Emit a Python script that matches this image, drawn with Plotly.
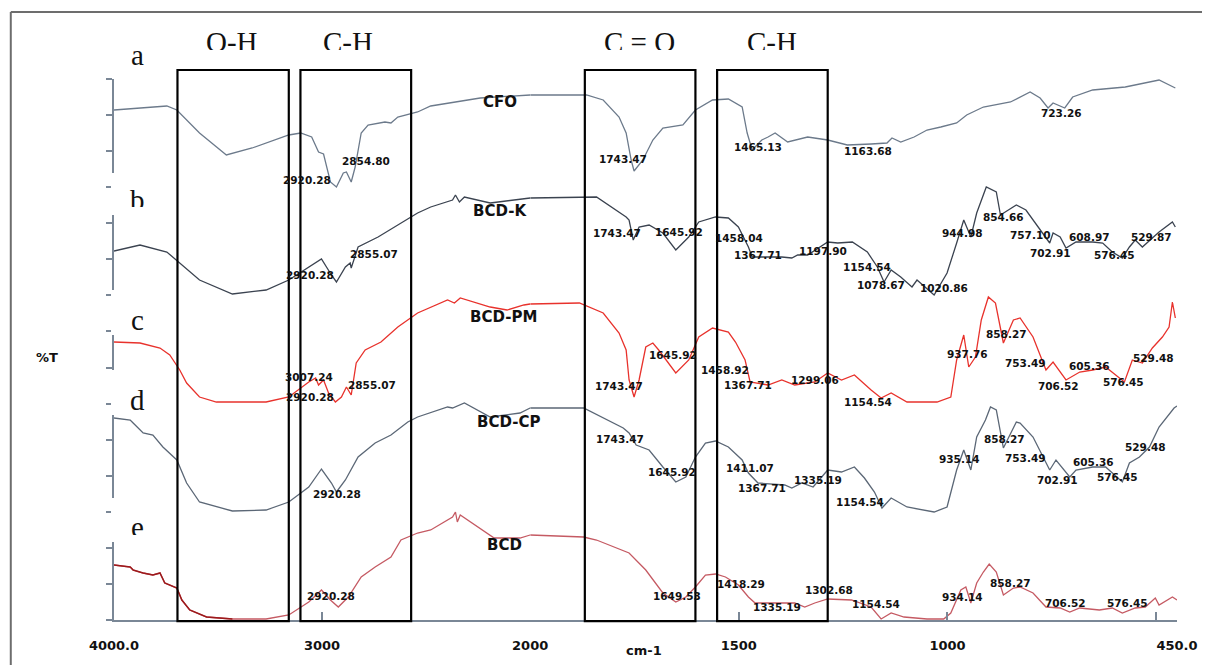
import plotly.graph_objects as go

# ---------------- data (wavenumber in cm-1, offset %T in arbitrary units) ----------------
cfo_wn = [4000, 3746, 3698, 3589, 3460, 3336, 3160, 3103, 3050, 3017,
          2993, 2960, 2931, 2898, 2883, 2860, 2841, 2812, 2779, 2698,
          2669, 2636, 2541, 2478, 2240, 2000, 1865, 1825, 1787, 1770,
          1758, 1751, 1730, 1706, 1682, 1634, 1604, 1563, 1525, 1492,
          1480, 1468, 1445, 1430, 1413, 1383, 1335, 1287, 1240, 1183,
          1145, 1133, 1112, 1080, 1049, 1016, 978, 954, 914, 849,
          802, 778, 759, 747, 730, 719, 700, 652, 574, 493, 454]
cfo_t = [510, 514, 510, 487, 465, 472, 485, 487, 483, 468,
         466, 438, 433, 447, 448, 438, 453, 487, 495, 498,
         497, 503, 508, 514, 522, 525, 525, 520, 503, 487,
         460, 449, 460, 480, 492, 495, 510, 520, 521, 513,
         487, 470, 480, 483, 487, 478, 483, 480, 475, 476,
         477, 482, 478, 483, 490, 493, 497, 505, 513, 518,
         528, 522, 512, 517, 514, 512, 523, 530, 533, 540, 532]

bcdk_wn = [4000, 3908, 3875, 3746, 3684, 3589, 3431, 3269, 3160, 3064,
           3003, 2955, 2931, 2888, 2865, 2860, 2827, 2731, 2650, 2541,
           2478, 2373, 2359, 2340, 2316, 2192, 2000, 1841, 1770, 1763,
           1753, 1739, 1715, 1682, 1651, 1620, 1596, 1556, 1525, 1501,
           1477, 1468, 1397, 1373, 1359, 1335, 1287, 1263, 1228, 1192,
           1168, 1152, 1135, 1112, 1085, 1073, 1032, 1001, 978, 961,
           944, 930, 907, 883, 873, 835, 812, 778, 755, 747,
           730, 716, 692, 652, 628, 605, 581, 564, 550, 533,
           509, 493, 461, 454]
bcdk_t = [369, 373, 375, 368, 357, 340, 326, 330, 340, 353,
          361, 345, 338, 353, 357, 352, 373, 383, 393, 407,
          413, 420, 425, 418, 423, 417, 422, 423, 403, 400,
          380, 393, 395, 387, 370, 383, 398, 403, 402, 393,
          373, 363, 363, 362, 365, 365, 378, 377, 378, 368,
          353, 338, 350, 343, 333, 340, 325, 347, 377, 400,
          383, 407, 433, 428, 405, 415, 410, 390, 377, 387,
          383, 372, 378, 378, 377, 368, 362, 373, 380, 373,
          382, 388, 398, 393]

bcdpm_wn = [4000, 3875, 3779, 3732, 3684, 3651, 3589, 3508, 3269, 3160,
            3064, 3031, 3017, 2993, 2969, 2936, 2907, 2883, 2860, 2836,
            2793, 2717, 2636, 2541, 2397, 2364, 2336, 2192, 2111, 2030,
            2000, 1882, 1825, 1787, 1770, 1763, 1751, 1739, 1723, 1706,
            1692, 1651, 1620, 1596, 1563, 1525, 1508, 1485, 1473, 1430,
            1397, 1366, 1318, 1287, 1254, 1223, 1183, 1159, 1135, 1097,
            1025, 992, 978, 961, 949, 933, 919, 902, 885, 866,
            842, 826, 795, 764, 747, 716, 683, 652, 621, 598,
            576, 557, 533, 509, 485, 469, 461, 454]
bcdpm_t = [278, 277, 272, 265, 250, 237, 223, 218, 218, 223,
           238, 242, 235, 240, 227, 218, 223, 233, 225, 257,
           270, 278, 293, 307, 320, 317, 322, 313, 310, 315,
           316, 317, 307, 287, 270, 240, 223, 240, 273, 277,
           270, 247, 260, 283, 292, 288, 278, 260, 238, 235,
           240, 235, 238, 247, 240, 245, 230, 222, 227, 218,
           218, 223, 260, 285, 253, 263, 300, 323, 317, 277,
           300, 302, 283, 250, 258, 240, 248, 250, 253, 245,
           238, 260, 257, 272, 283, 293, 318, 302]

bcdcp_wn = [4000, 3922, 3908, 3860, 3813, 3765, 3698, 3651, 3589, 3431,
            3269, 3160, 3064, 3003, 2955, 2931, 2888, 2827, 2745, 2669,
            2588, 2541, 2397, 2373, 2316, 2192, 2049, 2000, 1872, 1777,
            1763, 1746, 1715, 1682, 1651, 1627, 1604, 1580, 1556, 1525,
            1492, 1477, 1454, 1390, 1373, 1349, 1322, 1287, 1254, 1223,
            1199, 1175, 1157, 1135, 1097, 1032, 1001, 978, 961, 944,
            930, 909, 897, 883, 866, 835, 826, 795, 771, 755,
            740, 707, 692, 652, 621, 605, 581, 564, 540, 516,
            493, 457, 450]
bcdcp_t = [202, 200, 197, 187, 185, 173, 160, 137, 118, 109,
           110, 118, 133, 151, 137, 128, 140, 163, 177, 185,
           198, 203, 213, 212, 217, 203, 207, 212, 212, 192,
           187, 175, 170, 153, 138, 143, 163, 177, 179, 173,
           160, 147, 137, 135, 132, 137, 133, 150, 148, 153,
           142, 128, 112, 122, 113, 108, 113, 150, 170, 150,
           183, 200, 213, 210, 172, 198, 197, 183, 163, 150,
           160, 143, 150, 153, 153, 147, 138, 157, 163, 173,
           193, 212, 214]

bcd_wn = [4000, 3922, 3908, 3860, 3813, 3779, 3756, 3698, 3674, 3636,
          3555, 3431, 3269, 3160, 3064, 3003, 2960, 2922, 2874, 2812,
          2745, 2669, 2621, 2541, 2478, 2397, 2373, 2359, 2350, 2336,
          2254, 2173, 2049, 2000, 1872, 1841, 1763, 1723, 1682, 1651,
          1627, 1604, 1580, 1556, 1532, 1501, 1477, 1461, 1366, 1342,
          1318, 1287, 1230, 1183, 1159, 1135, 1104, 1049, 1009, 992,
          968, 956, 944, 930, 914, 900, 883, 866, 842, 826,
          795, 764, 730, 707, 683, 636, 605, 581, 550, 526,
          502, 493, 461, 450]
bcd_t = [55, 53, 50, 47, 45, 47, 37, 32, 20, 10,
         3, 1, 1, 5, 18, 30, 20, 13, 23, 43,
         53, 63, 80, 87, 90, 100, 103, 108, 98, 105,
         93, 82, 82, 85, 83, 80, 67, 50, 27, 18,
         23, 33, 45, 46, 43, 35, 23, 17, 17, 13,
         17, 21, 20, 13, 1, 7, 3, 1, 1, 7,
         30, 33, 17, 37, 48, 56, 48, 25, 32, 33,
         27, 13, 12, 8, 12, 10, 12, 7, 12, 13,
         22, 15, 23, 20]

# sample names: (text, wavenumber, %T)
sample_names = ["CFO", "BCD-K", "BCD-PM", "BCD-CP", "BCD"]
sample_name_wn = [2144, 2144, 2126, 2102, 2121]
sample_name_t = [518, 409, 303, 198, 75]
panel_letters = ["a", "b", "c", "d", "e"]

# peak labels
peak_text = [
    "2920.28", "2854.80", "1743.47", "1465.13", "1163.68", "723.26",
    "2920.28", "2855.07", "1743.47", "1645.92", "1458.04", "1367.71", "1197.90", "1154.54",
    "1078.67", "1020.86", "944.98", "854.66", "757.10", "702.91", "608.97", "576.45", "529.87",
    "3007.24", "2920.28", "2855.07", "1743.47", "1645.92", "1458.92", "1367.71", "1299.06",
    "1154.54", "937.76", "858.27", "753.49", "706.52", "605.36", "576.45", "529.48",
    "2920.28", "1743.47", "1645.92", "1411.07", "1367.71", "1335.19", "1154.54", "935.14",
    "858.27", "753.49", "702.91", "605.36", "576.45", "529.48",
    "2920.28", "1649.53", "1418.29", "1335.19", "1302.68", "1154.54", "934.14", "858.27",
    "706.52", "576.45"]
peak_wn = [
    3074, 2788, 1777, 1454, 1190, 726,
    3060, 2750, 1791, 1644, 1499, 1454, 1299, 1192,
    1159, 1009, 964, 866, 802, 752, 660, 600, 512,
    3064, 3060, 2759, 1786, 1658, 1532, 1478, 1318,
    1190, 952, 859, 812, 733, 660, 579, 507,
    2926, 1784, 1661, 1473, 1444, 1311, 1209, 971,
    864, 812, 736, 650, 593, 526,
    2955, 1649, 1494, 1409, 1285, 1171, 964, 850,
    717, 569]
peak_t = [
    440, 459, 461, 473, 469, 507,
    345, 366, 387, 388, 382, 365, 369, 353,
    335, 332, 387, 403, 385, 367, 383, 365, 383,
    243, 223, 235, 234, 265, 250, 235, 240,
    218, 266, 286, 257, 234, 254, 238, 262,
    126, 181, 148, 152, 132, 140, 118, 161,
    181, 162, 140, 158, 143, 173,
    24, 24, 36, 13, 30, 16, 23, 37,
    17, 17]

# highlighted band regions (cm-1)
band_labels = ["O-H", "C-H", "C = O", "C-H"]
band_hi = [3695, 3104, 1869, 1552]
band_lo = [3160, 2572, 1604, 1287]

x_ticks_hi = [4000, 3000]
x_ticktext_hi = ["4000.0", "3000"]
x_ticks_lo = [2000, 1500, 1000, 500, 450]
x_ticktext_lo = ["2000", "1500", "1000", "", "450.0"]

# ---------------- figure ----------------
SPLIT = 2000
AX = "#7a8796"
fig = go.Figure()


def add_curve(wn, t, color, width=1.3, keep=None):
    pts = list(zip(wn, t))
    if keep is not None:
        pts = [p for p in pts if keep(p[0])]
    hi = [p for p in pts if p[0] >= SPLIT]
    lo = [p for p in pts if p[0] <= SPLIT]
    for seg, xa in ((hi, "x"), (lo, "x2")):
        if len(seg) > 1:
            fig.add_trace(go.Scatter(x=[p[0] for p in seg], y=[p[1] for p in seg],
                                     mode="lines", line=dict(color=color, width=width),
                                     xaxis=xa, yaxis="y", showlegend=False,
                                     hoverinfo="skip"))


add_curve(cfo_wn, cfo_t, "#6c7a8b")
add_curve(bcdk_wn, bcdk_t, "#3b4350")
add_curve(bcdpm_wn, bcdpm_t, "#e8322c")
add_curve(bcdcp_wn, bcdcp_t, "#5b6776")
add_curve(bcd_wn, bcd_t, "#c55a63")
add_curve(bcd_wn, bcd_t, "#9c1a1c", width=1.5, keep=lambda w: w >= 3431)

D = 0.3915
tickfont = dict(family="DejaVu Sans", size=13, color="#111", weight="bold")
common_x = dict(anchor="y", ticks="inside", ticklen=8, tickwidth=1.5, tickcolor=AX,
                showline=True, linecolor=AX, linewidth=2, showgrid=False, zeroline=False,
                tickfont=tickfont, ticklabelstandoff=12, fixedrange=True)
fig.update_layout(
    width=1202, height=657,
    margin=dict(l=106, r=25, t=71, b=45),
    plot_bgcolor="white", paper_bgcolor="white", showlegend=False,
    xaxis=dict(domain=[0, D], range=[4000, 2000], tickvals=x_ticks_hi,
               ticktext=x_ticktext_hi, **common_x),
    xaxis2=dict(domain=[D, 1], range=[2000, 450], tickvals=x_ticks_lo,
                ticktext=x_ticktext_lo, **common_x),
    yaxis=dict(range=[0, 541], tickvals=[i * 541 / 15 for i in range(16)],
               ticks="outside", ticklen=6, tickwidth=1.5, tickcolor=AX,
               showticklabels=False, showline=True, linecolor=AX, linewidth=2,
               showgrid=False, zeroline=False, fixedrange=True),
)

shapes = []
for hi, lo in zip(band_hi, band_lo):
    xa = "x" if lo >= SPLIT else "x2"
    shapes.append(dict(type="rect", xref=xa, yref="paper", x0=hi, x1=lo,
                       y0=-0.002, y1=1.0166, line=dict(color="black", width=2.2),
                       fillcolor="rgba(0,0,0,0)", layer="above"))
# outer frame (top and left)
shapes.append(dict(type="line", xref="paper", yref="paper", x0=-0.0971, x1=1.03,
                   y0=1.1238, y1=1.1238, line=dict(color="#6d6d6d", width=2)))
shapes.append(dict(type="line", xref="paper", yref="paper", x0=-0.0971, x1=-0.0971,
                   y0=-0.1, y1=1.1238, line=dict(color="#6d6d6d", width=2)))
# white gaps in the y-axis behind panel letters
for y0, y1 in [(0.7486, 0.8262), (0.5268, 0.61), (0.3789, 0.4621), (0.1442, 0.2255)]:
    shapes.append(dict(type="rect", xref="paper", yref="paper", x0=-0.0028, x1=0.0033,
                       y0=y0, y1=y1, line=dict(width=0), fillcolor="white", layer="above"))
fig.update_layout(shapes=shapes)

ann = []
C = dict(xanchor="center", yanchor="middle", showarrow=False)
peak_font = dict(family="DejaVu Sans", size=10.5, color="#111", weight="bold")
for txt, w, t in zip(peak_text, peak_wn, peak_t):
    ann.append(dict(text=txt, x=w, y=t, xref="x" if w > SPLIT else "x2", yref="y",
                    font=peak_font, **C))
for txt, w, t in zip(sample_names, sample_name_wn, sample_name_t):
    ann.append(dict(text=txt, x=w, y=t, xref="x" if w > SPLIT else "x2", yref="y",
                    font=dict(family="DejaVu Sans", size=15, color="#111", weight="bold"),
                    **C))
serif = dict(family="Liberation Serif", size=29, color="#111")
for txt, yy in zip(panel_letters, [1.0444, 0.776, 0.5545, 0.4067, 0.1719]):
    ann.append(dict(text=txt, x=0.0224, y=yy, xref="paper", yref="paper", font=serif, **C))
for txt, xx in zip(band_labels, [0.1111, 0.2204, 0.4939, 0.619]):
    ann.append(dict(text=txt, x=xx, y=1.0684, xref="paper", yref="paper", font=serif, **C))
ann.append(dict(text="%T", x=-0.0626, y=0.486, xref="paper", yref="paper",
                font=dict(family="DejaVu Sans", size=13, color="#111", weight="bold"), **C))
ann.append(dict(text="cm-1", x=0.4986, y=-0.0555, xref="paper", yref="paper",
                font=dict(family="DejaVu Sans", size=13, color="#111", weight="bold"), **C))
# white covers that cut the lower part of some labels (as in the scanned figure)
for xx, yy, ww, hh in [(0.0663, 1.0536, 650, 18), (0.0103, 0.7634, 35, 18), (0.0103, 0.1571, 35, 17)]:
    ann.append(dict(text=" ", x=xx, y=yy, xref="paper", yref="paper", xanchor="left",
                    yanchor="top", width=ww, height=hh, bgcolor="white", borderpad=0,
                    borderwidth=0, showarrow=False))
fig.update_layout(annotations=ann)

fig.write_html("out.html")
